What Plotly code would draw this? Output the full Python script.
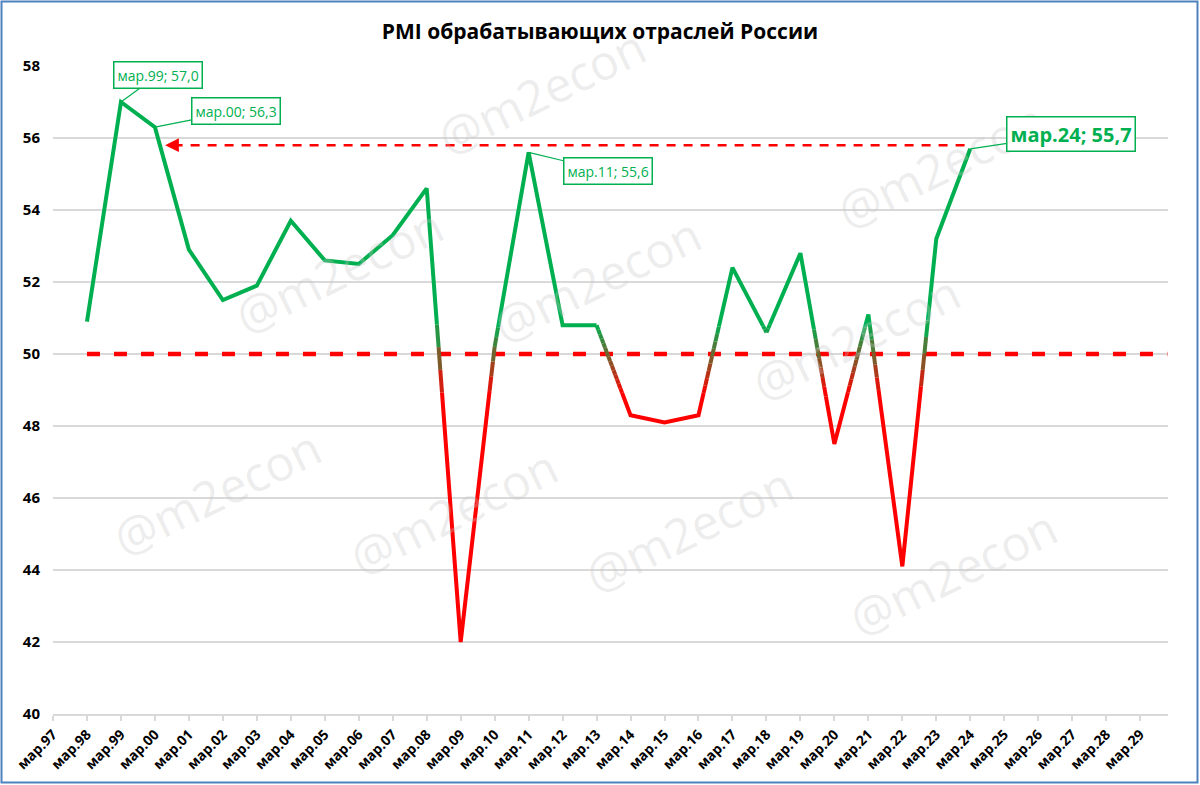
import plotly.graph_objects as go

# ---------------- data ----------------
categories = ["мар.%02d" % (y % 100) for y in range(1997, 2030)]  # мар.97 … мар.29
pmi_categories = categories[1:28]  # мар.98 … мар.24
pmi_values = [50.9, 57.0, 56.3, 52.9, 51.5, 51.9, 53.7, 52.6, 52.5, 53.3, 54.6,
              42.0, 50.2, 55.6, 50.8, 50.8, 48.3, 48.1, 48.3, 52.4, 50.6, 52.8,
              47.5, 51.1, 44.1, 53.2, 55.7]
threshold = 50.0
ref_level = 55.8
labelled = ["мар.99", "мар.00", "мар.11", "мар.24"]

# ---------------- styles ----------------
GREEN = (0, 176, 80)
RED = (255, 0, 0)
GRAD_HI, GRAD_LO = 50.8, 48.9
FONT = "Open Sans"

def col(y):
    t = (y - GRAD_LO) / (GRAD_HI - GRAD_LO)
    t = max(0.0, min(1.0, t))
    c = [round(RED[k] * (1 - t) + GREEN[k] * t) for k in range(3)]
    return "rgb(%d,%d,%d)" % tuple(c)

xidx = [categories.index(c) for c in pmi_categories]

# split line into coloured pieces (gradient in the band around 50)
pieces = []
K = 20
for i in range(len(pmi_values) - 1):
    x0, y0, x1, y1 = xidx[i], pmi_values[i], xidx[i + 1], pmi_values[i + 1]
    if (y0 >= GRAD_HI and y1 >= GRAD_HI) or (y0 <= GRAD_LO and y1 <= GRAD_LO):
        pieces.append(([x0, x1], [y0, y1], col(y0)))
    else:
        for k in range(K):
            a, b = k / K, (k + 1) / K
            ya, yb = y0 + (y1 - y0) * a, y0 + (y1 - y0) * b
            pieces.append(([x0 + (x1 - x0) * a, x0 + (x1 - x0) * b], [ya, yb], col((ya + yb) / 2)))

runs = []
for xs, ys, c in pieces:
    if runs and runs[-1][2] == c and runs[-1][0][-1] == xs[0]:
        runs[-1][0].append(xs[1]); runs[-1][1].append(ys[1])
    else:
        runs.append([list(xs), list(ys), c])

fig = go.Figure()

# threshold line at 50
fig.add_trace(go.Scatter(x=[xidx[0], len(categories) - 0.2], y=[threshold, threshold],
                         mode="lines", line=dict(color="#ff0000", width=4.5, dash="13px,14px"),
                         hoverinfo="skip", showlegend=False))
# reference level line
i00 = categories.index("мар.00")
i24 = categories.index("мар.24")
fig.add_trace(go.Scatter(x=[i00 + 0.55, i24], y=[ref_level, ref_level],
                         mode="lines", line=dict(color="#ff0000", width=2.5, dash="9px,8px"),
                         hoverinfo="skip", showlegend=False))

for xs, ys, c in runs:
    fig.add_trace(go.Scatter(x=xs, y=ys, mode="lines",
                             line=dict(color=c, width=4), hoverinfo="skip", showlegend=False))

annotations = []
# watermarks (pixel centres)
L, R, T, B = 53, 1168, 66, 714
W, H = R - L, B - T
marks = [(541, 92), (338, 270), (596, 279), (940, 165), (855, 337),
         (216, 492), (453, 512), (688, 529), (952, 572)]
for px, py in marks:
    annotations.append(dict(x=(px - L) / W, y=(B - py) / H, xref="paper", yref="paper",
                            xanchor="center", yanchor="middle",
                            text="@m2econ", showarrow=False, textangle=-26,
                            font=dict(family=FONT, size=48, color="rgba(200,200,200,0.33)")))

# arrow head of reference line
annotations.append(dict(x=i00 + 0.3, y=ref_level, xref="x", yref="y",
                        ax=i00 + 0.7, ay=ref_level, axref="x", ayref="y",
                        text="", showarrow=True, arrowhead=2, arrowsize=1.1,
                        arrowwidth=2.5, arrowcolor="#ff0000"))

offsets = {"мар.99": (37, -27, 14, False), "мар.00": (81, -16, 14, False),
           "мар.11": (79, 19, 14, False), "мар.24": (101, -15, 20, True)}
for c in labelled:
    v = pmi_values[pmi_categories.index(c)]
    txt = "%s; %s" % (c, ("%.1f" % v).replace(".", ","))
    ax, ay, fs, bold = offsets[c]
    annotations.append(dict(x=categories.index(c), y=v, xref="x", yref="y",
                            ax=ax, ay=ay, text=("<b>%s</b>" % txt) if bold else txt,
                            showarrow=True, arrowhead=0, arrowwidth=1.2, arrowcolor="#00b050",
                            font=dict(family=FONT, size=fs, color="#00b050"),
                            bgcolor="white", bordercolor="#00b050", borderwidth=1.5,
                            borderpad=3))

fig.update_layout(
    width=1200, height=785,
    margin=dict(l=L, r=1200 - R, t=T, b=785 - B, autoexpand=False),
    paper_bgcolor="white", plot_bgcolor="white",
    title=dict(text="<b>PMI обрабатывающих отраслей России</b>", x=0.5, xanchor="center",
               y=1 - 32 / 785, yanchor="middle", font=dict(family=FONT, size=21, color="black")),
    font=dict(family=FONT, color="black"),
    annotations=annotations,
    shapes=[dict(type="rect", xref="paper", yref="paper",
                 x0=(1.5 - L) / W, x1=(1197.5 - L) / W, y0=(B - 782.5) / H, y1=(B - 1.5) / H,
                 line=dict(color="#4f81bd", width=2), fillcolor="rgba(0,0,0,0)", layer="below")],
)
fig.update_xaxes(range=[0, len(categories) - 0.18], tickmode="array",
                 tickvals=list(range(len(categories))), ticktext=categories,
                 tickangle=-45, tickfont=dict(family=FONT, size=14, color="black", weight="bold"),
                 ticks="outside", ticklen=5, tickcolor="#d9d9d9", tickwidth=1.5,
                 showline=True, linecolor="#d9d9d9", linewidth=1.5,
                 showgrid=False, zeroline=False, automargin=False)
fig.update_yaxes(range=[40, 58], dtick=2, tick0=40,
                 tickfont=dict(family=FONT, size=15, color="black", weight="bold"),
                 showgrid=True, gridcolor="#d9d9d9", gridwidth=1.5,
                 showline=False, zeroline=False, ticks="", ticklabelstandoff=12,
                 automargin=False)

fig.write_html("out.html", config={"displayModeBar": False},
               post_script="document.body.style.margin='0';document.body.style.overflow='hidden';")
